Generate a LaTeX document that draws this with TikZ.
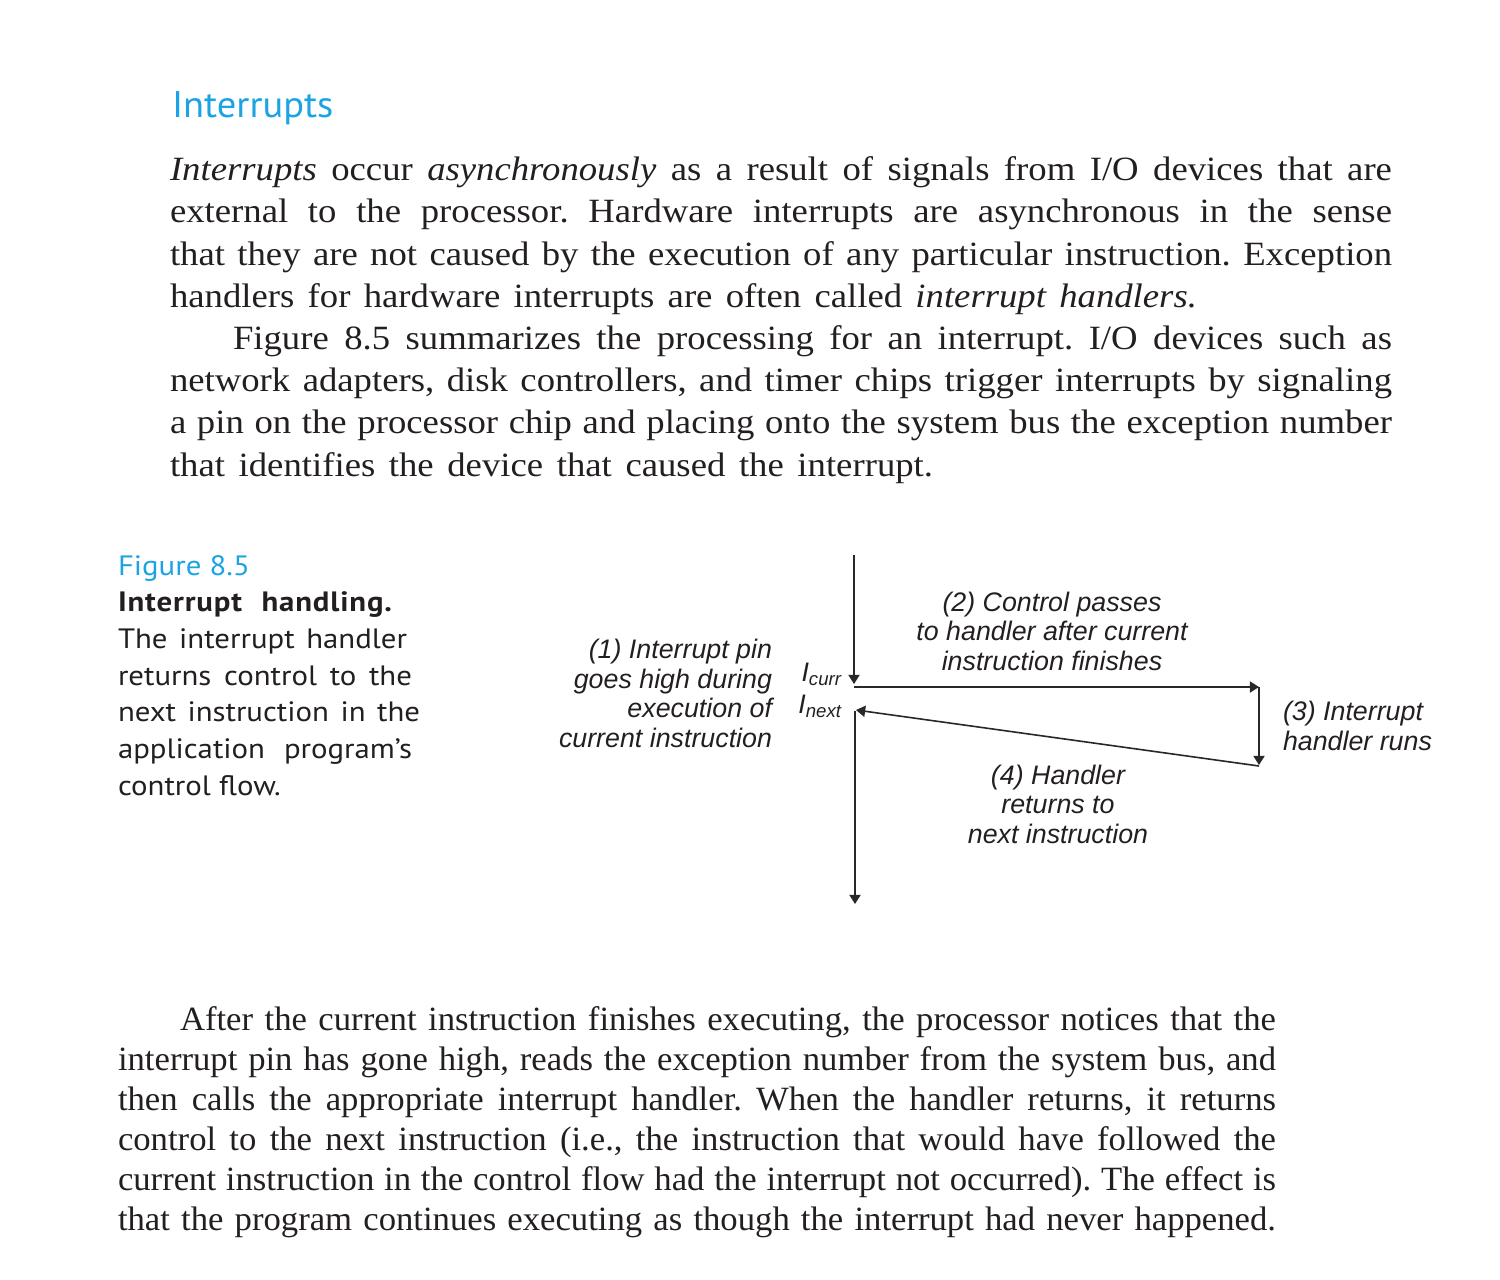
\documentclass[tikz,border=0pt]{standalone}
\usepackage{fontspec}
\setmainfont{Liberation Serif}
\newfontfamily\topfont{Liberation Serif}[FakeStretch=1.08]
\newfontfamily\botfont{Liberation Serif}[FakeStretch=1.02]
\newfontfamily\capfont{PT Sans}[FakeStretch=1.1]
\newfontfamily\headfont{PT Sans}[FakeStretch=1.04]
\newfontfamily\lblfont{Liberation Sans}
\usetikzlibrary{arrows.meta}
\definecolor{hblue}{RGB}{28,163,228}
\definecolor{ink}{RGB}{35,31,32}
\definecolor{wire}{RGB}{40,40,40}
\newcommand{\sline}[2]{\makebox[#1][s]{#2}}
\newcommand{\subtxt}[1]{\raisebox{-2.2pt}{\fontsize{9.3}{10}\selectfont #1}}
\frenchspacing
\begin{document}
\begin{tikzpicture}[x=0.5pt,y=-0.5pt,
  every node/.style={inner sep=0pt,outer sep=0pt,text=ink},
  toppara/.style={anchor=base west,align=left,font=\topfont\frenchspacing\fontsize{17}{21.1}\selectfont},
  botpara/.style={anchor=base west,align=left,font=\botfont\frenchspacing\fontsize{17}{20}\selectfont},
  captext/.style={anchor=base west,align=left,font=\capfont\fontsize{14}{18.33}\selectfont},
  lbl/.style={font=\lblfont\itshape\fontsize{13.4}{14.75}\selectfont},
  flow/.style={draw=wire,line width=0.8pt,-{Triangle[length=4.6pt,width=5.6pt]}}]
\useasboundingbox (0,0) rectangle (1500,1280);

% heading
\node[anchor=base west,font=\headfont\fontsize{18.5}{21}\selectfont,text=hblue] (head) at (172,117) {Interrupts};

% top paragraph (anchored at the baseline of its last line)
\node[toppara] (ptop) at (170,476) {%
\sline{611pt}{\textit{Interrupts} occur \textit{asynchronously} as a result of signals from I/O devices that are}\\
\sline{611pt}{external to the processor. Hardware interrupts are asynchronous in the sense}\\
\sline{611pt}{that they are not caused by the execution of any particular instruction. Exception}\\
\sline{513.5pt}{handlers for hardware interrupts are often called \textit{interrupt handlers.}}\\
\hspace*{31.5pt}\sline{579.5pt}{Figure 8.5 summarizes the processing for an interrupt. I/O devices such as}\\
\sline{611pt}{network adapters, disk controllers, and timer chips trigger interrupts by signaling}\\
\sline{611pt}{a pin on the processor chip and placing onto the system bus the exception number}\\
\sline{381.5pt}{that identifies the device that caused the interrupt.}};

% caption
\node[captext] (cap) at (118,795) {%
\textcolor{hblue}{Figure 8.5}\\
\sline{137pt}{\bfseries\addfontfeature{LetterSpace=3}Interrupt handling.}\\
\sline{144.5pt}{The interrupt handler}\\
\sline{147pt}{returns control to the}\\
\sline{151pt}{next instruction in the}\\
\sline{147pt}{application program’s}\\
control flow.};

% diagram coordinates
\coordinate (top) at (854,555);
\coordinate (currtip) at (854,684);
\coordinate (hstart) at (854,687);
\coordinate (hend) at (1259,687);
\coordinate (vstart) at (1259,687);
\coordinate (vend) at (1259,765);
\coordinate (retstart) at (1259,766);
\coordinate (nexttip) at (856,710);
\coordinate (lowstart) at (855,711);
\coordinate (bottom) at (855,904);

\draw[flow] (top) -- (currtip);
\draw[flow] (hstart) -- (hend);
\draw[flow] (vstart) -- (vend);
\draw[flow] (retstart) -- (nexttip);
\draw[flow] (lowstart) -- (bottom);

% labels (multi-line ones anchored at the baseline of their last line)
\node[lbl,anchor=base east,align=right] (l1) at (772,747) {(1) Interrupt pin\\goes high during\\execution of\\current instruction};
\node[lbl,anchor=base east] (icurr) at (841,681) {I\subtxt{curr}};
\node[lbl,anchor=base east] (inext) at (841,713) {I\subtxt{next}};
\node[lbl,anchor=base,align=center] (l2) at (1052,670) {(2) Control passes\\to handler after current\\instruction finishes};
\node[lbl,anchor=base west,align=left] (l3) at (1283,750) {(3) Interrupt\\handler runs};
\node[lbl,anchor=base,align=center] (l4) at (1058,843) {(4) Handler\\returns to\\next instruction};

% bottom paragraph
\node[botpara] (pbot) at (118,1230) {%
\hspace*{31pt}\sline{548pt}{After the current instruction finishes executing, the processor notices that the}\\
\sline{579pt}{interrupt pin has gone high, reads the exception number from the system bus, and}\\
\sline{579pt}{then calls the appropriate interrupt handler. When the handler returns, it returns}\\
\sline{579pt}{control to the next instruction (i.e., the instruction that would have followed the}\\
\sline{579pt}{current instruction in the control flow had the interrupt not occurred). The effect is}\\
\sline{579pt}{that the program continues executing as though the interrupt had never happened.}};
\end{tikzpicture}
\end{document}
